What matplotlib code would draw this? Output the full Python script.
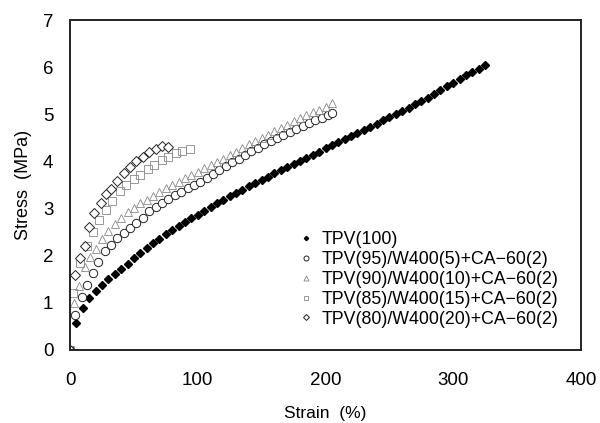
import matplotlib
matplotlib.use('Agg')
import matplotlib.pyplot as plt

plt.rcParams['font.family'] = ['Liberation Sans', 'DejaVu Sans']

# TPV(100)
strain_100 = [0, 5, 10, 15, 20, 25, 30, 35, 40, 45, 50, 55, 60, 65, 70, 75, 80, 85, 90, 95,
              100, 105, 110, 115, 120, 125, 130, 135, 140, 145, 150, 155, 160, 165, 170,
              175, 180, 185, 190, 195, 200, 205, 210, 215, 220, 225, 230, 235, 240, 245,
              250, 255, 260, 265, 270, 275, 280, 285, 290, 295, 300, 305, 310, 315, 320, 325]
stress_100 = [0, 0.57, 0.89, 1.11, 1.26, 1.38, 1.5, 1.61, 1.72, 1.83, 1.95, 2.06, 2.17, 2.27,
              2.36, 2.45, 2.54, 2.63, 2.71, 2.79, 2.87, 2.95, 3.03, 3.11, 3.19, 3.26, 3.33,
              3.4, 3.47, 3.54, 3.61, 3.68, 3.75, 3.82, 3.88, 3.94, 4.0, 4.07, 4.14, 4.21,
              4.28, 4.35, 4.42, 4.48, 4.54, 4.6, 4.66, 4.73, 4.8, 4.87, 4.94, 5.01, 5.08,
              5.14, 5.21, 5.28, 5.35, 5.43, 5.51, 5.59, 5.67, 5.75, 5.84, 5.9, 5.96, 6.04]

# TPV(95)/W400(5)+CA-60(2)
strain_95 = [0, 4, 9, 13, 18, 22, 27, 32, 37, 42, 47, 52, 57, 62, 67, 72, 77, 82, 87, 92, 97,
             102, 107, 112, 117, 122, 127, 132, 137, 142, 147, 152, 157, 162, 167, 172, 177,
             182, 187, 192, 197, 202, 205]
stress_95 = [0, 0.74, 1.13, 1.38, 1.63, 1.87, 2.09, 2.23, 2.37, 2.48, 2.58, 2.69, 2.8, 2.95,
             3.04, 3.12, 3.2, 3.28, 3.36, 3.43, 3.5, 3.57, 3.65, 3.73, 3.81, 3.9, 3.98, 4.06,
             4.14, 4.22, 4.29, 4.36, 4.43, 4.5, 4.57, 4.63, 4.69, 4.75, 4.81, 4.87, 4.93,
             4.99, 5.03]

# TPV(90)/W400(10)+CA-60(2)
strain_90 = [0, 3, 7, 12, 16, 20, 25, 30, 35, 40, 45, 50, 55, 60, 65, 70, 75, 80, 85, 90, 95,
             100, 105, 110, 115, 120, 125, 130, 135, 140, 145, 150, 155, 160, 165, 170, 175,
             180, 185, 190, 195, 200, 205]
stress_90 = [0, 1.0, 1.35, 1.77, 1.97, 2.15, 2.35, 2.52, 2.67, 2.8, 2.92, 3.02, 3.11, 3.19,
             3.27, 3.35, 3.43, 3.5, 3.57, 3.64, 3.71, 3.78, 3.85, 3.92, 3.99, 4.06, 4.13,
             4.2, 4.28, 4.36, 4.43, 4.5, 4.57, 4.64, 4.71, 4.78, 4.85, 4.92, 4.98, 5.04,
             5.1, 5.16, 5.23]

# TPV(85)/W400(15)+CA-60(2)
strain_85 = [0, 2, 8, 13, 18, 23, 28, 33, 39, 44, 50, 55, 61, 66, 72, 77, 83, 88, 94]
stress_85 = [0, 1.2, 1.85, 2.2, 2.5, 2.75, 2.97, 3.17, 3.37, 3.5, 3.62, 3.72, 3.84, 3.93,
             4.02, 4.1, 4.18, 4.23, 4.27]

# TPV(80)/W400(20)+CA-60(2)
strain_80 = [0, 4, 8, 12, 15, 19, 24, 28, 32, 37, 42, 47, 52, 57, 62, 67, 72, 77]
stress_80 = [0, 1.59, 1.95, 2.2, 2.6, 2.9, 3.11, 3.3, 3.42, 3.58, 3.75, 3.89, 4.0, 4.1,
             4.2, 4.27, 4.32, 4.31]

labels = ['TPV(100)', 'TPV(95)/W400(5)+CA\u221260(2)', 'TPV(90)/W400(10)+CA\u221260(2)',
          'TPV(85)/W400(15)+CA\u221260(2)', 'TPV(80)/W400(20)+CA\u221260(2)']

fig = plt.figure(figsize=(6, 4.23), dpi=100)
ax = fig.add_axes([0.1167, 0.1726, 0.8516, 0.7801])

ax.plot(strain_100, stress_100, linestyle='none', marker='D', markersize=3.6,
        color='black', label=labels[0])
ax.plot(strain_95, stress_95, linestyle='none', marker='o', markersize=6,
        markerfacecolor='white', markeredgecolor='#222222', markeredgewidth=0.7, label=labels[1])
ax.plot(strain_90, stress_90, linestyle='none', marker='^', markersize=6,
        markerfacecolor='none', markeredgecolor='#888888', markeredgewidth=0.6, label=labels[2])
ax.plot(strain_85, stress_85, linestyle='none', marker='s', markersize=5.5,
        markerfacecolor='none', markeredgecolor='#888888', markeredgewidth=0.6, label=labels[3])
ax.plot(strain_80, stress_80, linestyle='none', marker='D', markersize=5,
        markerfacecolor='white', markeredgecolor='#222222', markeredgewidth=0.7, label=labels[4])

ax.set_xlim(0, 400)
ax.set_ylim(0, 7)
ax.set_xticks([0, 100, 200, 300, 400])
ax.set_yticks(range(0, 8))
ax.tick_params(length=0, labelsize=13.5)
ax.tick_params(axis='y', pad=12)
ax.tick_params(axis='x', pad=16)
for sp in ax.spines.values():
    sp.set_linewidth(1.4)
    sp.set_color('#222222')

ax.set_xlabel('Strain  (%)', fontsize=12.5, labelpad=12)
ax.set_ylabel('Stress  (MPa)', fontsize=13, labelpad=8)

ax.legend(loc='upper left', bbox_to_anchor=(0.447, 0.36), frameon=False, fontsize=12.8,
          markerscale=0.6, handlelength=0.8, handletextpad=0.5, labelspacing=0.16,
          borderpad=0, borderaxespad=0)

plt.savefig('out.png', dpi=100)
